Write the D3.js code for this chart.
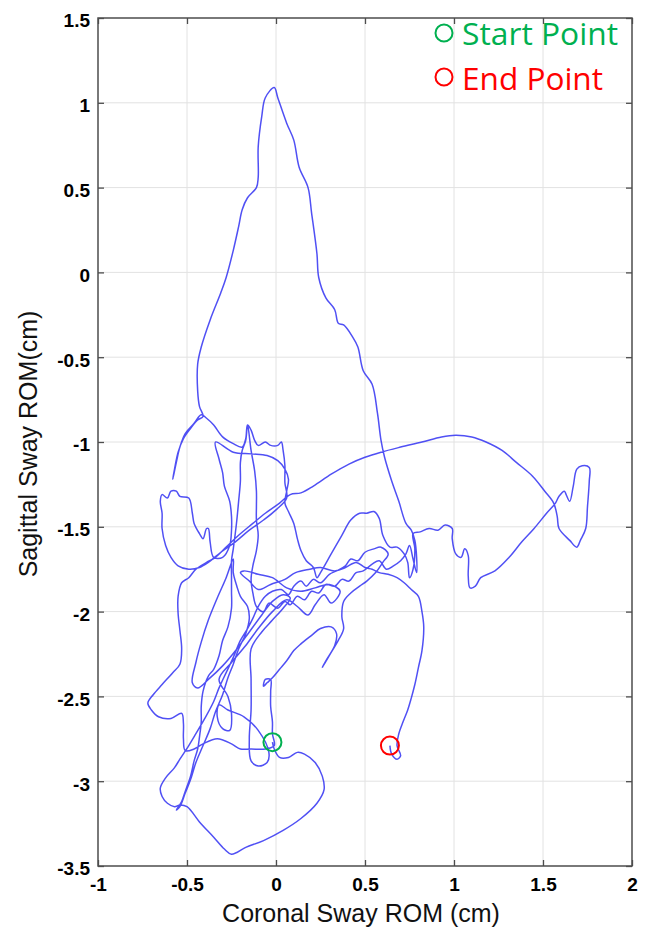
<!DOCTYPE html>
<html lang="en">
<head>
<meta charset="utf-8">
<title>Coronal vs Sagittal Sway ROM</title>
<script src="https://d3js.org/d3.v7.min.js"></script>
<style>
  body { margin: 0; background: #fff; }
  svg { display: block; }
</style>
</head>
<body>
<script>
// tick values for both axes
const xTicks = [-1, -0.5, 0, 0.5, 1, 1.5, 2];
const yTicks = [1.5, 1, 0.5, 0, -0.5, -1, -1.5, -2, -2.5, -3, -3.5];

// markers + legend
const startPoint = [-0.02, -2.77];
const endPoint = [0.64, -2.79];
const legendLabels = ["Start Point", "End Point"];
const legendColors = ["#00b050", "#ff0000"];

// sway trajectory [coronal cm, sagittal cm]
const swayTrace = [
  [-0.02,-2.77],[-0.01,-2.81],[0.02,-2.86],[0.07,-2.86],[0.12,-2.83],[0.16,-2.84],[0.22,-2.89],[0.26,-2.97],[0.27,-3.05],[0.23,-3.13],
  [0.14,-3.22],[0.04,-3.29],[-0.07,-3.35],[-0.17,-3.39],[-0.25,-3.43],[-0.29,-3.40],[-0.35,-3.33],[-0.43,-3.24],[-0.50,-3.15],[-0.54,-3.14],
  [-0.57,-3.15],[-0.61,-3.13],[-0.64,-3.09],[-0.65,-3.04],[-0.62,-2.98],[-0.57,-2.92],[-0.54,-2.87],
  [-0.49,-2.79],[-0.45,-2.72],[-0.40,-2.63],[-0.35,-2.53],[-0.32,-2.45],[-0.28,-2.36],[-0.24,-2.27],[-0.20,-2.17],[-0.16,-2.10],[-0.13,-2.04],
  [-0.10,-1.97],[-0.06,-1.91],[-0.02,-1.88],
  [0.03,-1.87],[0.07,-1.90],[0.10,-1.85],[0.14,-1.82],[0.17,-1.85],[0.21,-1.81],[0.25,-1.83],[0.30,-1.78],[0.34,-1.76],[0.39,-1.73],
  [0.42,-1.69],[0.46,-1.70],[0.50,-1.65],[0.55,-1.63],[0.59,-1.62],[0.63,-1.66],
  [0.60,-1.71],[0.56,-1.77],[0.51,-1.82],[0.47,-1.85],[0.42,-1.89],[0.38,-1.94],[0.37,-2.03],[0.38,-2.10],[0.35,-2.17],[0.31,-2.24],
  [0.26,-2.33],[0.28,-2.29],[0.33,-2.20],[0.34,-2.13],[0.31,-2.09],[0.25,-2.10],[0.20,-2.14],[0.14,-2.19],[0.10,-2.23],[0.06,-2.29],
  [0.02,-2.34],[-0.02,-2.39],[-0.05,-2.42],[-0.07,-2.44],[-0.06,-2.40],[-0.03,-2.40],[-0.03,-2.47],[-0.03,-2.56],[-0.02,-2.65],[-0.02,-2.72],
  [-0.01,-2.79],[-0.06,-2.81],[-0.14,-2.81],[-0.20,-2.81],[-0.25,-2.78],[-0.33,-2.75],[-0.41,-2.78],[-0.46,-2.81],[-0.51,-2.82],
  [-0.52,-2.75],[-0.52,-2.66],[-0.53,-2.60],[-0.59,-2.63],[-0.66,-2.62],[-0.70,-2.58],[-0.72,-2.54],[-0.69,-2.49],[-0.64,-2.43],[-0.58,-2.36],
  [-0.54,-2.31],[-0.53,-2.22],[-0.54,-2.11],[-0.55,-2.01],[-0.55,-1.91],[-0.53,-1.83],[-0.49,-1.80],[-0.45,-1.75],[-0.39,-1.71],[-0.34,-1.68],
  [-0.28,-1.62],[-0.21,-1.55],[-0.13,-1.48],[-0.06,-1.42],[0.02,-1.36],[0.08,-1.31],
  [0.14,-1.30],[0.21,-1.26],[0.31,-1.19],[0.41,-1.13],[0.50,-1.09],[0.59,-1.06],[0.70,-1.03],[0.82,-1.00],[0.93,-0.97],[1.01,-0.96],
  [1.10,-0.97],[1.18,-1.00],[1.27,-1.05],[1.35,-1.12],[1.44,-1.20],[1.51,-1.29],[1.56,-1.36],[1.58,-1.44],[1.59,-1.51],[1.65,-1.58],
  [1.69,-1.62],[1.71,-1.58],[1.74,-1.51],[1.75,-1.38],[1.76,-1.23],[1.76,-1.15],[1.72,-1.14],[1.69,-1.16],[1.67,-1.26],[1.65,-1.35],
  [1.63,-1.31],[1.62,-1.29],[1.59,-1.32],[1.57,-1.36],[1.52,-1.42],[1.45,-1.51],[1.38,-1.59],[1.31,-1.68],[1.23,-1.76],[1.15,-1.80],
  [1.12,-1.85],[1.09,-1.86],
  [1.08,-1.79],[1.08,-1.67],[1.06,-1.63],[1.04,-1.68],[1.01,-1.66],[0.99,-1.57],[0.99,-1.51],[0.95,-1.49],[0.91,-1.52],[0.86,-1.51],
  [0.81,-1.53],[0.77,-1.54],
  [0.78,-1.63],[0.77,-1.75],[0.75,-1.80],[0.74,-1.71],[0.72,-1.66],[0.68,-1.62],[0.64,-1.62],[0.60,-1.55],[0.58,-1.45],[0.55,-1.41],
  [0.51,-1.42],[0.47,-1.42],[0.42,-1.46],[0.37,-1.55],[0.31,-1.66],[0.25,-1.77],[0.23,-1.80],[0.21,-1.74],[0.17,-1.70],[0.14,-1.64],
  [0.12,-1.57],[0.10,-1.48],[0.07,-1.41],[0.05,-1.36],
  [0.06,-1.29],[0.07,-1.22],[0.05,-1.16],[0.01,-1.11],[-0.05,-1.08],[-0.14,-1.07],[-0.24,-1.06],[-0.34,-1.00],
  [-0.32,-1.10],[-0.30,-1.18],[-0.29,-1.26],[-0.26,-1.35],[-0.25,-1.44],[-0.25,-1.52],[-0.26,-1.61],[-0.30,-1.68],[-0.35,-1.68],[-0.37,-1.59],
  [-0.38,-1.51],[-0.39,-1.51],[-0.41,-1.57],[-0.43,-1.54],[-0.46,-1.48],[-0.47,-1.42],[-0.49,-1.33],[-0.54,-1.32],[-0.56,-1.29],[-0.59,-1.29],
  [-0.61,-1.33],[-0.64,-1.31],[-0.65,-1.35],[-0.64,-1.42],[-0.64,-1.51],[-0.62,-1.61],[-0.59,-1.68],[-0.55,-1.73],[-0.49,-1.75],[-0.43,-1.74],
  [-0.38,-1.71],[-0.31,-1.65],[-0.23,-1.59],[-0.15,-1.52],[-0.07,-1.46],[0.00,-1.40],[0.06,-1.33],
  [0.05,-1.24],[0.05,-1.14],[0.04,-1.05],[0.03,-1.00],[0.01,-1.02],[-0.03,-1.02],[-0.06,-1.00],[-0.10,-1.02],[-0.12,-0.99],[-0.14,-0.93],
  [-0.16,-0.90],[-0.17,-0.98],[-0.19,-1.03],[-0.24,-1.01],[-0.30,-0.97],[-0.35,-0.90],[-0.39,-0.86],[-0.42,-0.84],
  [-0.46,-0.89],[-0.51,-0.95],[-0.54,-1.03],[-0.56,-1.12],[-0.58,-1.22],[-0.57,-1.16],[-0.55,-1.06],[-0.52,-0.98],[-0.48,-0.92],[-0.44,-0.87],
  [-0.41,-0.85],
  [-0.43,-0.79],[-0.44,-0.70],[-0.44,-0.54],[-0.42,-0.44],[-0.37,-0.28],[-0.31,-0.12],[-0.28,-0.03],[-0.24,0.13],[-0.21,0.27],[-0.19,0.37],
  [-0.16,0.44],[-0.11,0.50],[-0.10,0.56],[-0.10,0.74],[-0.08,0.92],[-0.06,1.03],[-0.01,1.09],[0.01,1.03],[0.06,0.88],[0.10,0.78],
  [0.13,0.62],[0.18,0.50],[0.20,0.35],[0.23,0.11],[0.24,-0.03],[0.28,-0.15],[0.33,-0.22],[0.35,-0.30],[0.38,-0.31],[0.43,-0.38],
  [0.46,-0.44],[0.49,-0.58],[0.54,-0.66],[0.57,-0.83],[0.59,-0.99],[0.61,-1.09],[0.65,-1.23],[0.69,-1.35],[0.73,-1.48],[0.76,-1.52],
  [0.78,-1.58],[0.79,-1.68],[0.79,-1.77],[0.77,-1.69],[0.75,-1.61],[0.73,-1.66],[0.70,-1.70],
  [0.66,-1.73],[0.62,-1.75],[0.58,-1.70],[0.54,-1.72],[0.49,-1.76],[0.45,-1.77],[0.41,-1.82],[0.37,-1.81],[0.33,-1.85],[0.28,-1.84],
  [0.24,-1.89],[0.20,-1.88],[0.16,-1.93],[0.12,-1.91],[0.08,-1.96],[0.05,-1.94],[0.01,-1.98],[-0.04,-1.95],[-0.07,-2.00],[-0.11,-1.97],
  [-0.13,-1.89],[-0.14,-1.81],[-0.13,-1.73],[-0.11,-1.64],[-0.10,-1.55],[-0.11,-1.46],[-0.11,-1.38],[-0.11,-1.29],[-0.12,-1.17],[-0.14,-1.05],
  [-0.16,-0.90],[-0.17,-0.99],[-0.19,-1.05],[-0.20,-1.12],[-0.20,-1.23],[-0.21,-1.35],[-0.22,-1.46],[-0.23,-1.55],[-0.24,-1.63],[-0.25,-1.70],
  [-0.25,-1.79],[-0.25,-1.88],[-0.25,-1.98],[-0.27,-2.09],[-0.30,-2.17],[-0.32,-2.26],[-0.35,-2.34],[-0.38,-2.38],
  [-0.41,-2.47],[-0.42,-2.56],[-0.42,-2.65],[-0.43,-2.74],[-0.44,-2.81],[-0.46,-2.88],[-0.48,-2.97],[-0.51,-3.06],[-0.53,-3.12],[-0.56,-3.17],
  [-0.54,-3.15],[-0.51,-3.07],[-0.48,-2.99],[-0.45,-2.89],[-0.41,-2.79],[-0.37,-2.69],[-0.34,-2.59],[-0.30,-2.49],[-0.27,-2.39],[-0.24,-2.31],
  [-0.21,-2.22],
  [-0.17,-2.13],[-0.15,-2.04],[-0.16,-1.97],[-0.20,-1.91],[-0.22,-1.85],[-0.24,-1.77],[-0.24,-1.69],
  [-0.28,-1.80],[-0.33,-1.92],[-0.38,-2.05],[-0.42,-2.18],[-0.45,-2.30],[-0.47,-2.42],[-0.44,-2.45],[-0.38,-2.40],[-0.30,-2.32],[-0.22,-2.22],
  [-0.15,-2.12],[-0.08,-2.02],[-0.02,-1.94],[0.04,-1.90],[0.08,-1.92],[0.04,-1.98],[-0.02,-2.05],[-0.08,-2.12],[-0.14,-2.22],[-0.14,-2.40],
  [-0.14,-2.58],[-0.15,-2.75],[-0.14,-2.88],[-0.10,-2.91],[-0.05,-2.89],[-0.04,-2.83],[-0.10,-2.70],[-0.18,-2.62],[-0.27,-2.58],[-0.32,-2.55],
  [-0.33,-2.62],[-0.30,-2.69],[-0.26,-2.70],[-0.25,-2.60],[-0.27,-2.50],[-0.32,-2.40],[-0.25,-2.30],[-0.17,-2.20],[-0.10,-2.10],[-0.02,-2.00],
  [0.06,-1.93],[0.12,-1.97],[0.18,-2.02],[0.22,-1.96],[0.27,-1.90],[0.31,-1.95],[0.36,-1.88],[0.30,-1.84],[0.22,-1.86],[0.14,-1.88],
  [0.06,-1.86],[-0.02,-1.80],[-0.10,-1.78],[-0.18,-1.76],
  [-0.20,-1.77],[-0.15,-1.82],[-0.10,-1.87],[-0.03,-1.84],[0.05,-1.81],[0.11,-1.77],[0.19,-1.75],[0.25,-1.74],[0.33,-1.76],[0.39,-1.74],
  [0.45,-1.71],[0.50,-1.74],[0.54,-1.75],[0.58,-1.77],[0.63,-1.78],[0.68,-1.80],[0.72,-1.83],[0.76,-1.87],[0.80,-1.91],[0.82,-2.00],
  [0.83,-2.09],[0.82,-2.23],[0.80,-2.33],[0.78,-2.43],[0.76,-2.51],[0.74,-2.58],[0.71,-2.66],[0.69,-2.72],[0.68,-2.79],[0.70,-2.85],
  [0.68,-2.87],[0.65,-2.84],[0.64,-2.79]
];

const width = 645, height = 929;
const margin = {top: 18, right: 13, bottom: 63, left: 98};
const plotW = width - margin.left - margin.right;
const plotH = height - margin.top - margin.bottom;

const svg = d3.select("body").append("svg")
    .attr("width", width)
    .attr("height", height);

const x = d3.scaleLinear().domain([-1, 2]).range([margin.left, margin.left + plotW]);
const y = d3.scaleLinear().domain([-3.5, 1.5]).range([margin.top + plotH, margin.top]);

// grid
svg.append("g").selectAll("line")
    .data(xTicks.slice(1, -1)).join("line")
    .attr("x1", d => x(d)).attr("x2", d => x(d))
    .attr("y1", margin.top).attr("y2", margin.top + plotH)
    .attr("stroke", "#e2e2e2").attr("stroke-width", 1);
svg.append("g").selectAll("line")
    .data(yTicks.slice(1, -1)).join("line")
    .attr("y1", d => y(d)).attr("y2", d => y(d))
    .attr("x1", margin.left).attr("x2", margin.left + plotW)
    .attr("stroke", "#e2e2e2").attr("stroke-width", 1);

// axes, ticks pointing inward like matlab
const fmt = d => String(d);
const gBottom = svg.append("g")
    .attr("transform", `translate(0,${margin.top + plotH})`)
    .call(d3.axisBottom(x).tickValues(xTicks).tickFormat(fmt).tickSizeInner(-6).tickSizeOuter(0).tickPadding(12));
const gTop = svg.append("g")
    .attr("transform", `translate(0,${margin.top})`)
    .call(d3.axisTop(x).tickValues(xTicks).tickFormat("").tickSizeInner(-6).tickSizeOuter(0));
const gLeft = svg.append("g")
    .attr("transform", `translate(${margin.left},0)`)
    .call(d3.axisLeft(y).tickValues(yTicks).tickFormat(fmt).tickSizeInner(-6).tickSizeOuter(0).tickPadding(8));
const gRight = svg.append("g")
    .attr("transform", `translate(${margin.left + plotW},0)`)
    .call(d3.axisRight(y).tickValues(yTicks).tickFormat("").tickSizeInner(-6).tickSizeOuter(0));

[gBottom, gTop, gLeft, gRight].forEach(g => {
  g.select(".domain").remove();
  g.selectAll(".tick line").attr("stroke", "#4d4d4d").attr("stroke-width", 1.3);
  g.selectAll(".tick text")
    .attr("fill", "#000")
    .style("font-family", "'Liberation Sans', Arial, sans-serif")
    .style("font-size", "19px")
    .style("font-weight", "bold");
});
gLeft.selectAll(".tick text").attr("dy", "0.47em");

// box
svg.append("rect")
    .attr("x", margin.left).attr("y", margin.top)
    .attr("width", plotW).attr("height", plotH)
    .attr("fill", "none").attr("stroke", "#4d4d4d").attr("stroke-width", 1.5);

// trajectory
const line = d3.line()
    .x(d => x(d[0]))
    .y(d => y(d[1]))
    .curve(d3.curveCatmullRom.alpha(0.5));

svg.append("path")
    .datum(swayTrace)
    .attr("d", line)
    .attr("fill", "none")
    .attr("stroke", "#2a2af2")
    .attr("stroke-opacity", 0.82)
    .attr("stroke-width", 1.5)
    .attr("stroke-linejoin", "round");

// start / end markers
svg.append("g").selectAll("circle")
    .data([startPoint, endPoint]).join("circle")
    .attr("cx", d => x(d[0])).attr("cy", d => y(d[1]))
    .attr("r", 9)
    .attr("fill", "none")
    .attr("stroke", (d, i) => legendColors[i])
    .attr("stroke-width", 2);

// legend
const legend = svg.append("g");
legend.selectAll("circle")
    .data(legendLabels).join("circle")
    .attr("cx", 444).attr("cy", (d, i) => 33 + i * 44)
    .attr("r", 8.5)
    .attr("fill", "none")
    .attr("stroke", (d, i) => legendColors[i])
    .attr("stroke-width", 2);
legend.selectAll("text")
    .data(legendLabels).join("text")
    .attr("x", 462).attr("y", (d, i) => 45 + i * 45)
    .attr("textLength", (d, i) => i === 0 ? 156 : 141)
    .attr("lengthAdjust", "spacingAndGlyphs")
    .attr("fill", (d, i) => legendColors[i])
    .style("font-family", "'Open Sans', 'Noto Sans', sans-serif")
    .style("font-size", "31px")
    .text(d => d);

// axis titles
svg.append("text")
    .attr("x", 361).attr("y", 922)
    .attr("text-anchor", "middle")
    .attr("fill", "#111")
    .style("font-family", "'Liberation Sans', Arial, sans-serif")
    .style("font-size", "25px")
    .text("Coronal Sway ROM (cm)");

svg.append("text")
    .attr("transform", "translate(37,444) rotate(-90)")
    .attr("text-anchor", "middle")
    .attr("fill", "#111")
    .style("font-family", "'Liberation Sans', Arial, sans-serif")
    .style("font-size", "25px")
    .text("Sagittal Sway ROM(cm)");
</script>
</body>
</html>
